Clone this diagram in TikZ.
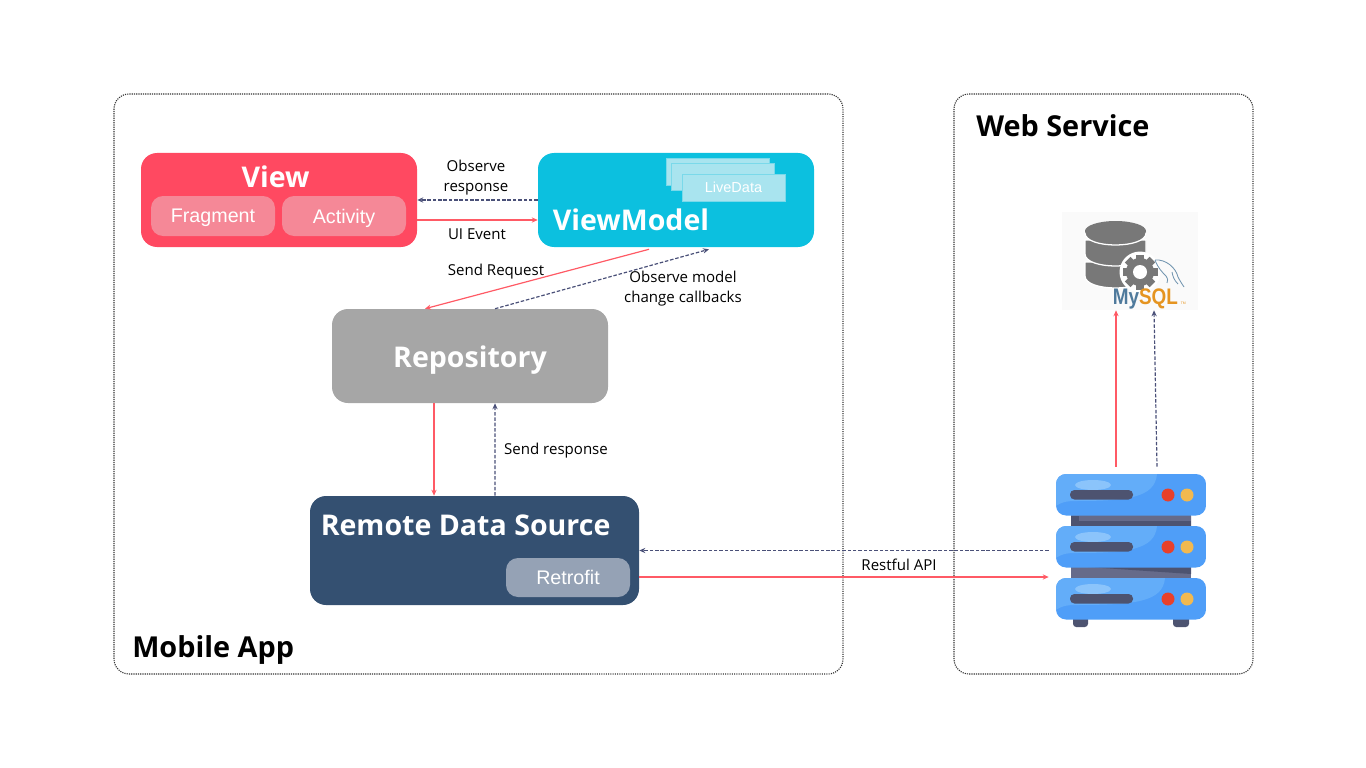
\documentclass[tikz,border=0pt]{standalone}
\usepackage{fontspec}
\setmainfont{Open Sans}
\newfontfamily\arialfont{Liberation Sans}
\usetikzlibrary{arrows.meta,calc}
\newcommand{\pxu}{0.025cm}
\definecolor{viewred}{HTML}{FF4961}
\definecolor{viewinner}{HTML}{F58897}
\definecolor{modelblue}{HTML}{0CC0DF}
\definecolor{livecolor}{HTML}{A9E4EF}
\definecolor{repogray}{HTML}{A6A6A6}
\definecolor{remoteblue}{HTML}{345071}
\definecolor{retrocolor}{HTML}{95A2B5}
\definecolor{redline}{HTML}{FF5A65}
\definecolor{dashline}{HTML}{4A5078}
\definecolor{srvblue}{HTML}{4F9EF8}
\definecolor{srvlight}{HTML}{63ADF9}
\definecolor{srvshine}{HTML}{8BC4FB}
\definecolor{srvdark}{HTML}{4D5370}
\definecolor{srvbody}{HTML}{666B8A}
\definecolor{srvred}{HTML}{E8402A}
\definecolor{srvyellow}{HTML}{F2B950}
\definecolor{dbgray}{HTML}{787878}
\definecolor{sqlblue}{HTML}{4F7A9C}
\definecolor{sqlorange}{HTML}{E59420}
\tikzset{
  region/.style={draw=black!80,line width=0.8pt,dash pattern=on 0.8pt off 0.8pt,rounded corners=0.375cm},
  panel/.style={rounded corners=0.4cm,inner sep=0pt,text=white},
  subpanel/.style={rounded corners=0.3cm,inner sep=0pt,text=white,text depth=0pt,font=\arialfont\fontsize{14}{17}\selectfont},
  heading/.style={inner sep=0pt,text=white,text depth=0pt,font=\bfseries\fontsize{20.3}{24}\selectfont},
  outerheading/.style={heading,text=black,anchor=west,font=\bfseries\fontsize{20.5}{24}\selectfont},
  caption/.style={inner sep=0pt,align=center,font=\fontsize{10.7}{14.2}\selectfont},
  sendline/.style={draw=redline,line width=0.85pt,-{Stealth[length=1.5mm,width=1.3mm]}},
  backline/.style={draw=dashline,line width=0.85pt,dash pattern=on 2.5pt off 1.3pt,-{Stealth[length=1.5mm,width=1.3mm]}}
}

\begin{document}
\begin{tikzpicture}[x=\pxu,y=-\pxu]
\useasboundingbox (0,0) rectangle (1366,768);
%regions
\node[region,minimum width=729*\pxu,minimum height=580*\pxu] (mobile) at (478.5,384) {};
\node[region,minimum width=299*\pxu,minimum height=580*\pxu] (web) at (1103.5,384) {};
\node[outerheading] (mobilelabel) at (132,646.5) {Mobile App};
\node[outerheading] (weblabel) at (976,126) {Web Service};
%view
\node[panel,fill=viewred,minimum width=276*\pxu,minimum height=94*\pxu] (view) at (279,200) {};
\node[heading] (viewtitle) at (275.5,177) {View};
\node[subpanel,fill=viewinner,minimum width=124*\pxu,minimum height=40*\pxu] (fragment) at (213,216) {Fragment};
\node[subpanel,fill=viewinner,minimum width=124*\pxu,minimum height=40*\pxu] (activity) at (344,216) {Activity};
%viewmodel
\node[panel,fill=modelblue,minimum width=276*\pxu,minimum height=94*\pxu] (viewmodel) at (676,200) {};
\node[heading] (viewmodeltitle) at (631,219.5) {ViewModel};
\node[fill=livecolor,draw=modelblue!30!livecolor,line width=0.3pt,inner sep=0pt,minimum width=103*\pxu,minimum height=27*\pxu] (live1) at (717.5,171.5) {};
\node[fill=livecolor,draw=modelblue!30!livecolor,line width=0.3pt,inner sep=0pt,minimum width=103*\pxu,minimum height=27*\pxu] (live2) at (723,177) {};
\node[fill=livecolor,draw=modelblue!30!livecolor,line width=0.3pt,inner sep=0pt,minimum width=103*\pxu,minimum height=27*\pxu,text=white,font=\arialfont\fontsize{10.3}{12}\selectfont] (live3) at (733.5,187.5) {LiveData};
%repository
\node[panel,fill=repogray,minimum width=276*\pxu,minimum height=94*\pxu] (repository) at (470,356) {};
\node[heading] (repositorytitle) at (470,356.5) {Repository};
%remote
\node[panel,fill=remoteblue,minimum width=329*\pxu,minimum height=109*\pxu] (remote) at (474.5,550.5) {};
\node[heading,anchor=west] (remotetitle) at (320.5,525) {Remote Data Source};
\node[subpanel,fill=retrocolor,minimum width=124*\pxu,minimum height=39*\pxu] (retrofit) at (568,577.5) {Retrofit};
%database
\node[fill=black!2,inner sep=0pt,minimum width=136*\pxu,minimum height=98*\pxu] (database) at (1130,261) {};
\fill[dbgray,draw=white,line width=0.9pt] (1085,262) -- (1085,276) .. controls (1085,292) and (1146,292) .. (1146,276) -- (1146,262) -- cycle;
\fill[dbgray,draw=white,line width=0.9pt] (1085,240) -- (1085,254) .. controls (1085,270) and (1146,270) .. (1146,254) -- (1146,240) -- cycle;
\fill[dbgray,draw=white,line width=0.9pt] (1085,231) -- (1085,233) .. controls (1085,249) and (1146,249) .. (1146,233) -- (1146,231) -- cycle;
\fill[dbgray] (1115.5,231) ellipse (30.5 and 10);
\fill[white] (1140,272) circle (20.5);
\foreach \a in {0,45,...,135} {
\fill[dbgray,rotate around={\a:(1140,272)}] (1136,254.5) rectangle (1144,289.5);
}
\fill[dbgray] (1140,272) circle (14);
\fill[white] (1140,272) circle (7);
\draw[sqlblue!80,line width=0.6pt] (1155,260) .. controls (1166,259) and (1176,268) .. (1178,277) .. controls (1180,281) and (1182,284) .. (1184,287);
\draw[sqlblue!80,line width=0.6pt] (1155,260) .. controls (1158,268) and (1162,272) .. (1166,276) .. controls (1168,279) and (1168,281) .. (1167,283);
\draw[sqlblue!80,line width=0.6pt] (1172,272) .. controls (1173,277) and (1174,280) .. (1178,284);
\node[inner sep=0pt,anchor=base west,font=\arialfont\fontsize{16}{18}\selectfont] (mysql) at (1112.5,304.5) {\scalebox{0.84}[1]{\textcolor{sqlblue}{\textbf{My}}\textcolor{sqlorange}{\textbf{SQL}}}};
\node[inner sep=0pt,anchor=base west,text=sqlorange,font=\arialfont\fontsize{2.5}{3}\selectfont] (mysqltm) at (1180.5,304.5) {TM};
%server
\node[inner sep=0pt,minimum width=150*\pxu,minimum height=153*\pxu] (server) at (1131,550.5) {};
\fill[srvdark,rounded corners=0.08cm] (1073,616) rectangle (1088,627);
\fill[srvdark,rounded corners=0.08cm] (1173,616) rectangle (1189,627);
\fill[srvbody] (1071,510) rectangle (1191,582);
\fill[srvdark] (1079,516) -- (1191,516) -- (1191,526) -- (1071,526) -- (1071,516) -- cycle;
\fill[srvbody] (1079,516) -- (1191,516) -- (1191,521) -- (1079,521) -- cycle;
\fill[srvdark] (1088,567) -- (1191,567) -- (1191,574) -- cycle;
\foreach \y/\w in {474/1157,526/1157,578/1165} {
\begin{scope}
\clip[rounded corners=0.25cm] (1056,\y) rectangle (1206,\y+41.5);
\fill[srvblue] (1056,\y) rectangle (1206,\y+42);
\fill[srvlight] (1056,\y) -- (\w,\y) .. controls (\w-2,\y+24) and (\w-30,\y+27) .. (1075,\y+27) .. controls (1065,\y+27) and (1060,\y+29) .. (1056,\y+32) -- cycle;
\end{scope}
\fill[srvshine] (1093,\y+11) ellipse (18 and 5);
\fill[srvdark,rounded corners=0.11cm] (1070,\y+16) rectangle (1133,\y+25.5);
\fill[srvred] (1168,\y+21) circle (6.5);
\fill[srvyellow] (1187,\y+21) circle (6.5);
}
%connectors
\draw[backline] (viewmodel.west) -- (view.east);
\draw[sendline] ([yshift=-20*\pxu]view.east) -- ([yshift=-20*\pxu]viewmodel.west);
\draw[sendline] ([xshift=-27*\pxu,yshift=-2*\pxu]viewmodel.south) -- ([xshift=-45*\pxu]repository.north);
\draw[backline] ([xshift=25*\pxu]repository.north) -- ([xshift=33*\pxu,yshift=-2*\pxu]viewmodel.south);
\draw[sendline] ([xshift=-36*\pxu]repository.south) -- ([xshift=-40.5*\pxu]remote.north);
\draw[backline] ([xshift=20.5*\pxu]remote.north) -- ([xshift=25*\pxu]repository.south);
\draw[sendline] ([yshift=-26.5*\pxu]remote.east) -- ([xshift=-7*\pxu,yshift=-26.5*\pxu]server.west);
\draw[backline] ([xshift=-7*\pxu]server.west) -- (remote.east);
\draw[sendline] ([xshift=-15*\pxu,yshift=7*\pxu]server.north) -- ([xshift=-14*\pxu]database.south);
\draw[backline] ([xshift=26*\pxu,yshift=7*\pxu]server.north) -- ([xshift=24*\pxu]database.south);
%labels
\node[caption] (observelabel) at (476,178) {Observe\\response};
\node[caption] (uilabel) at (477,234.5) {UI Event};
\node[caption] (requestlabel) at (496,272) {Send Request};
\node[caption] (modellabel) at (683,289) {Observe model\\change callbacks};
\node[caption] (responselabel) at (556,451) {Send response};
\node[caption] (apilabel) at (899,565) {Restful API};
\end{tikzpicture}
\end{document}
